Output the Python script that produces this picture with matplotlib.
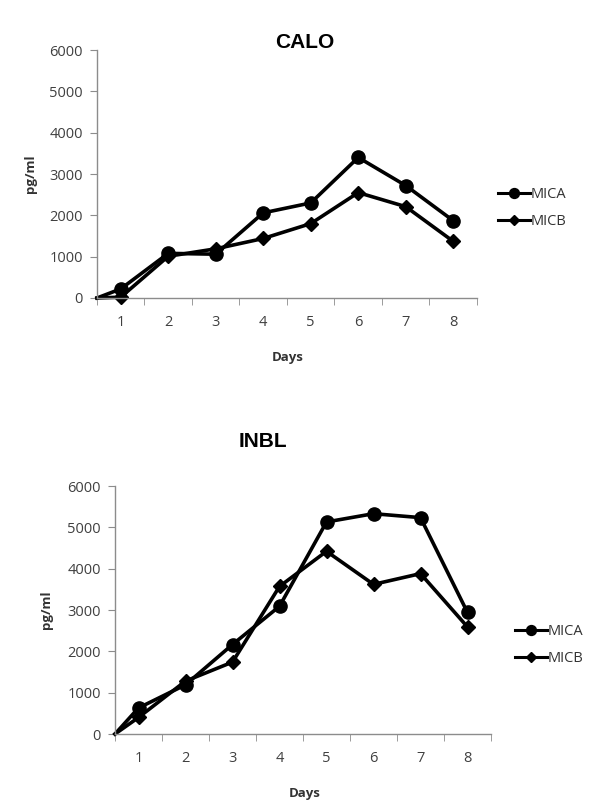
import matplotlib
matplotlib.use("Agg")
import matplotlib.pyplot as plt
from matplotlib.ticker import MultipleLocator

# Dados
days = [1, 2, 3, 4, 5, 6, 7, 8]
day_labels = ["1", "2", "3", "4", "5", "6", "7", "8"]
origin_day = 0.5
origin_value = 0

calo_mica = [220, 1080, 1060, 2060, 2300, 3400, 2720, 1870]
calo_micb = [20, 1010, 1190, 1440, 1800, 2550, 2210, 1370]

inbl_mica = [630, 1190, 2165, 3090, 5130, 5330, 5235, 2940]
inbl_micb = [400, 1280, 1740, 3570, 4420, 3620, 3880, 2590]

TICK_FONT = "Open Sans"
GRAY = "#8c8c8c"


def draw_panel(ax, title, mica, micb, title_xy, days_xy, ylab_xy, leg_xy):
    xs = [origin_day] + days
    ax.plot(xs, [origin_value] + mica, color="black", lw=2.6, marker="o",
            markersize=9.5, markevery=list(range(1, len(xs))), label="MICA",
            clip_on=False)
    ax.plot(xs, [origin_value] + micb, color="black", lw=2.6, marker="D",
            markersize=7, markevery=list(range(1, len(xs))), label="MICB",
            clip_on=False)

    ax.set_xlim(0.5, 8.5)
    ax.set_ylim(0, 6000)
    ax.yaxis.set_major_locator(MultipleLocator(1000))
    ax.set_xticks(days)
    ax.set_xticklabels(day_labels)
    ax.set_xticks([d + 0.5 for d in [0] + days], minor=True)
    ax.tick_params(axis="x", which="major", length=0, pad=12)
    ax.tick_params(axis="x", which="minor", length=5, color=GRAY, direction="out")
    ax.tick_params(axis="y", length=5, color=GRAY, direction="out", pad=5)
    for lab in ax.get_xticklabels() + ax.get_yticklabels():
        lab.set_fontfamily(TICK_FONT)
        lab.set_fontsize(10.5)
        lab.set_color("#404040")

    for side in ["top", "right"]:
        ax.spines[side].set_visible(False)
    for side in ["left", "bottom"]:
        ax.spines[side].set_color(GRAY)
        ax.spines[side].set_linewidth(1)

    fig = ax.figure
    fig.text(title_xy[0], title_xy[1], title, ha="center", va="center",
             fontsize=15, fontweight="bold", family="Liberation Sans")
    fig.text(days_xy[0], days_xy[1], "Days", ha="center", va="center",
             fontsize=9.5, fontweight="bold", family=TICK_FONT, color="#333333")
    fig.text(ylab_xy[0], ylab_xy[1], "pg/ml", ha="center", va="center",
             rotation=90, fontsize=9.5, fontweight="bold", family=TICK_FONT,
             color="#333333")

    leg = ax.legend(loc="center left", bbox_to_anchor=leg_xy,
                    bbox_transform=fig.transFigure, frameon=False,
                    handlelength=2.2, handletextpad=0.05, labelspacing=0.85,
                    borderpad=0, borderaxespad=0, markerscale=0.75,
                    prop={"family": TICK_FONT, "size": 10.5})
    for t in leg.get_texts():
        t.set_color("#333333")
    for h in leg.get_lines():
        h.set_linewidth(2.2)


fig = plt.figure(figsize=(6, 8.11), dpi=100)

ax1 = fig.add_axes([97 / 600, 1 - 298 / 811, 380 / 600, 248 / 811])
draw_panel(ax1, "CALO", calo_mica, calo_micb,
           (305 / 600, 1 - 43 / 811), (288 / 600, 1 - 358 / 811),
           (31 / 600, 1 - 174 / 811), (498 / 600, 1 - 208 / 811))

ax2 = fig.add_axes([115 / 600, 1 - 734 / 811, 376 / 600, 248 / 811])
draw_panel(ax2, "INBL", inbl_mica, inbl_micb,
           (263 / 600, 1 - 442 / 811), (305 / 600, 1 - 793 / 811),
           (46 / 600, 1 - 610 / 811), (515 / 600, 1 - 645 / 811))

fig.savefig("out.png", dpi=100)
